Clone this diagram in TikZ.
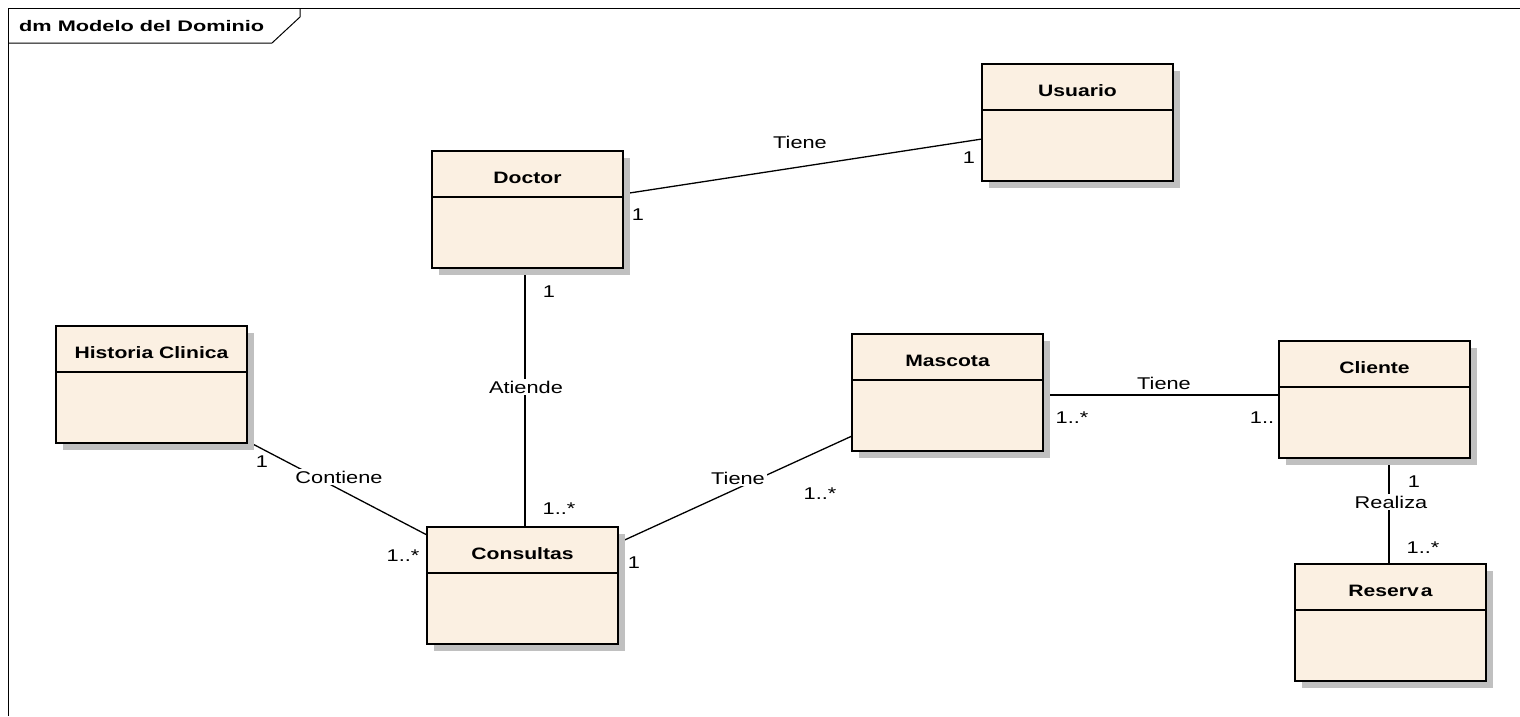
\documentclass[tikz,border=0pt]{standalone}
\usepackage{fontspec}
\setmainfont{Liberation Sans}
\newfontfamily\umlfont[FakeStretch=1.28]{Liberation Sans}
\newfontfamily\framefont[FakeStretch=1.42]{Liberation Sans}
\usetikzlibrary{calc,backgrounds}
\definecolor{classfill}{RGB}{251,240,226}
\definecolor{shadowgray}{RGB}{192,192,192}

% class box: name, left x, top y, title
\newcommand\umlclass[4]{%
  \fill[shadowgray] (#2+7,#3+7) rectangle (#2+198,#3+124);
  \node[classbox, anchor=north west] (#1) at (#2,#3) {};
  \draw[edge] ($(#1.north west)+(0,46)$) -- ($(#1.north east)+(0,46)$);
  \node[classtitle] (#1-title) at ($(#1.north)+(0,27)$) {#4};
}

\begin{document}
\begin{tikzpicture}[x=1pt,y=-1pt,
  edge/.style={line width=1.3pt, draw=black},
  classbox/.style={draw=black, fill=classfill, line width=1.3pt,
    minimum width=191pt, minimum height=117pt, inner sep=0pt, outer sep=0pt},
  classtitle/.style={font=\umlfont\bfseries\fontsize{16.5}{19}\selectfont, inner sep=0pt},
  lbl/.style={font=\umlfont\fontsize{17}{20}\selectfont, inner sep=1pt},
  onlbl/.style={lbl, fill=white, inner sep=2pt},
  frameline/.style={line width=1pt, draw=black}]
\useasboundingbox (0,0) rectangle (1520,716);

% diagram frame and its name tab
\draw[frameline] (8,716) -- (8,8) -- (1520,8);
\draw[frameline] (8,43) -- (272,43) -- (300,17) -- (300,8);
\node[anchor=west, inner sep=0pt, font=\framefont\bfseries\fontsize{15.3}{18}\selectfont] (frametitle) at (19,26) {dm Modelo del Dominio};

% classes (each with its drop shadow)
\umlclass{Doctor}{432}{151}{Doctor}
\umlclass{Usuario}{982}{64}{Usuario}
\umlclass{Historia}{56}{326}{Historia Clinica}
\umlclass{Consultas}{427}{527}{Consultas}
\umlclass{Mascota}{852}{334}{Mascota}
\umlclass{Cliente}{1279}{341}{Cliente}
\umlclass{Reserva}{1295}{564}{Reserv\hspace{0.12em}a}

% associations, kept underneath the boxes and their shadows
\begin{scope}[on background layer]
  \fill[white] (0,0) rectangle (1520,716);
  \draw[edge] ($(Doctor.north east)+(0,43)$) -- ($(Usuario.north west)+(0,75)$);
  \draw[edge] ($(Doctor.south)+(-2.5,0)$) -- ($(Consultas.north)+(2.5,0)$);
  \draw[edge] ($(Historia.south east)+(0,-2)$) -- ($(Consultas.north west)+(0,8)$);
  \draw[edge] ($(Consultas.north east)+(0,16)$) -- ($(Mascota.south west)+(0,-15)$);
  \draw[edge] ($(Mascota.north east)+(0,61)$) -- ($(Cliente.north west)+(0,54)$);
  \draw[edge] ($(Cliente.south)+(14.5,0)$) -- ($(Reserva.north)+(-1.5,0)$);
\end{scope}

% association names and multiplicities
\node[lbl] (nDU) at (800,142) {Tiene};
\node[lbl] (mDU1) at (638,215) {1};
\node[lbl] (mDU2) at (969,158) {1};

\node[onlbl] (nDC) at (526,387) {Atiende};
\node[lbl] (mDC1) at (549,292) {1};
\node[lbl] (mDC2) at (559,509) {1..*};

\node[onlbl] (nHC) at (339,477) {Contiene};
\node[lbl] (mHC1) at (262,462) {1};
\node[lbl] (mHC2) at (403,556) {1..*};

\node[onlbl] (nCM) at (738,478) {Tiene};
\node[lbl] (mCM1) at (634,563) {1};
\node[lbl] (mCM2) at (820,494) {1..*};

\node[lbl] (nMC) at (1164,383) {Tiene};
\node[lbl] (mMC1) at (1072,418) {1..*};
\node[lbl] (mMC2) at (1262,418) {1..};

\node[onlbl] (nCR) at (1391,502) {Realiza};
\node[lbl] (mCR1) at (1414,482) {1};
\node[lbl] (mCR2) at (1423,548) {1..*};
\end{tikzpicture}
\end{document}
